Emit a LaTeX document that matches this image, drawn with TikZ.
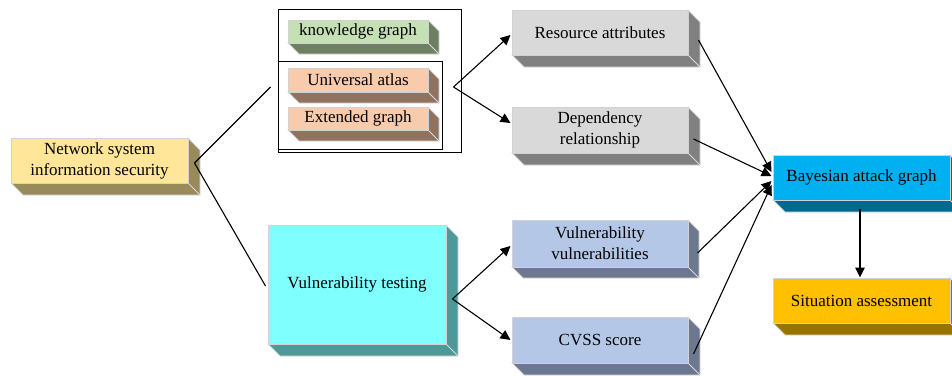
\documentclass[tikz,border=0pt]{standalone}
\usepackage{fontspec}
\setmainfont{Liberation Serif}
\usetikzlibrary{arrows.meta,calc}
\definecolor{netF}{HTML}{FFE699}\definecolor{netS}{HTML}{998A5B}
\definecolor{kgF}{HTML}{C5E0B4}\definecolor{kgS}{HTML}{6E8062}
\definecolor{uaF}{HTML}{F8CBAD}\definecolor{uaS}{HTML}{8F7260}
\definecolor{grF}{HTML}{D9D9D9}\definecolor{grS}{HTML}{808080}
\definecolor{vtF}{HTML}{80FFFF}\definecolor{vtS}{HTML}{4D9999}
\definecolor{blF}{HTML}{B4C7E7}\definecolor{blS}{HTML}{6C7890}
\definecolor{bayF}{HTML}{00B0F0}\definecolor{bayS}{HTML}{006990}
\definecolor{sitF}{HTML}{FFC000}\definecolor{sitS}{HTML}{997300}
\tikzset{
  tdface/.style={draw=gray!35, line width=0.5pt, inner sep=0pt, align=center,
    font=\fontsize{8.5}{10.5}\selectfont, text=black},
  tdside/.style={draw=gray!30, line width=0.4pt},
  frame/.style={draw=black, line width=0.5pt, inner sep=0pt},
  conn/.style={draw=black, line width=0.55pt},
  arr/.style={conn, -{Triangle[length=5pt,width=4.8pt]}}
}
% #1 name, #2 x1, #3 y1, #4 x2, #5 y2, #6 front, #7 side, #8 text, #9 depth
\newcommand\tdbox[9]{%
  \filldraw[tdside, fill=#7] (#2,#5) -- (#4,#5) -- (#4,#3) -- ({#4+#9},{#3+#9}) -- ({#4+#9},{#5+#9}) -- ({#2+#9},{#5+#9}) -- cycle;
  \draw[tdside] (#4,#5) -- ({#4+#9},{#5+#9});
  \node[tdface, fill=#6, minimum width={(#4-#2)*0.5pt}, minimum height={(#5-#3)*0.5pt}] (#1) at ({(#2+#4)/2},{(#3+#5)/2}) {#8};
}
\begin{document}
\begin{tikzpicture}[x=0.5pt,y=-0.5pt]
\useasboundingbox (0,0) rectangle (952,375);
% frames
\node[frame, minimum width={183*0.5pt}, minimum height={143*0.5pt}] (outer) at (369.5,80.5) {};
\node[frame, minimum width={164*0.5pt}, minimum height={88*0.5pt}] (inner) at (360,105) {};
% boxes
\tdbox{net}{11}{138}{188}{183}{netF}{netS}{Network system\\information security}{12}
\tdbox{know}{288}{20}{428}{43}{kgF}{kgS}{knowledge graph}{11}
\tdbox{univ}{288}{68}{428}{92}{uaF}{uaS}{Universal atlas}{11}
\tdbox{ext}{288}{107}{428}{130}{uaF}{uaS}{Extended graph}{11}
\tdbox{res}{512}{10}{688}{55}{grF}{grS}{Resource attributes}{12}
\tdbox{dep}{512}{107}{688}{153}{grF}{grS}{Dependency\\relationship}{12}
\tdbox{vt}{268}{225}{446}{344}{vtF}{vtS}{Vulnerability testing}{12}
\tdbox{vv}{512}{220}{688}{267}{blF}{blS}{Vulnerability\\vulnerabilities}{11}
\tdbox{cvss}{512}{317}{688}{363}{blF}{blS}{CVSS score}{12}
\tdbox{bay}{773}{155}{950}{200}{bayF}{bayS}{Bayesian attack graph}{12}
\tdbox{sit}{773}{278}{950}{323}{sitF}{sitS}{Situation assessment}{12}
% connector points
\coordinate (netout) at ($(net.east)+(6,2.5)$);
\coordinate (kin) at ($(outer.west)+(-7,6.5)$);
\coordinate (inout) at ($(inner.east)+(11,-18)$);
\coordinate (vtout) at ($(vt.east)+(6,14.5)$);
\coordinate (resout) at ($(res.east)+(10,7.5)$);
\coordinate (depout) at ($(dep.east)+(5,9)$);
\coordinate (vvout) at ($(vv.east)+(9,9.5)$);
\coordinate (cvssout) at ($(cvss.east)+(5,14)$);
\coordinate (bayout) at ($(bay.south)+(-1.5,8)$);
% connectors
\draw[conn] (netout) -- (kin);
\draw[conn] (netout) -- ($(vt.west)+(-2,1.5)$);
\draw[arr] (inout) -- ($(res.west)+(-1,2.5)$);
\draw[arr] (inout) -- ($(dep.west)+(-1,-7)$);
\draw[arr] (vtout) -- ($(vv.west)+(-1,2.5)$);
\draw[arr] (vtout) -- ($(cvss.west)+(-1,0)$);
\draw[arr] (resout) -- ($(bay.west)+(-1,-5.5)$);
\draw[arr] (depout) -- ($(bay.west)+(-1,-1.5)$);
\draw[arr] (vvout) -- ($(bay.west)+(-1,3.5)$);
\draw[arr] (cvssout) -- ($(bay.west)+(-1,7.5)$);
\draw[arr] (bayout) -- ($(sit.north)+(-1.5,0)$);
\end{tikzpicture}
\end{document}
